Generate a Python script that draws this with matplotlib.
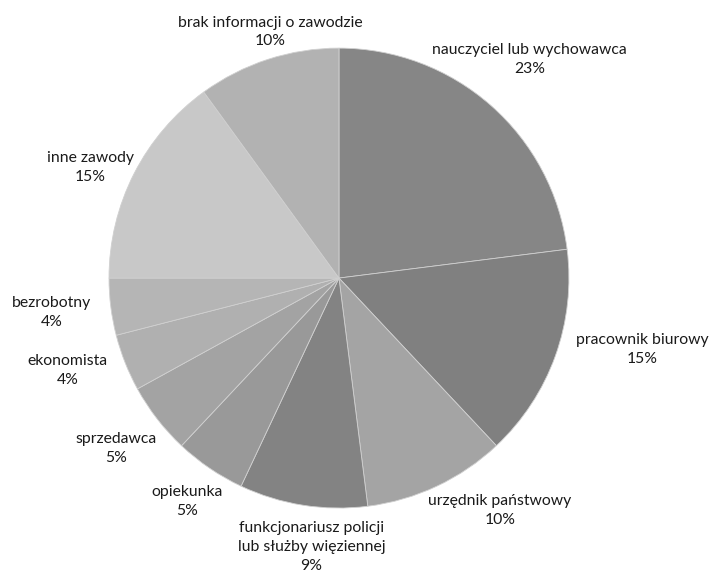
import matplotlib
matplotlib.use("Agg")
import matplotlib.pyplot as plt

categories = [
    "nauczyciel lub wychowawca",
    "pracownik biurowy",
    "urzędnik państwowy",
    "funkcjonariusz policji\nlub służby więziennej",
    "opiekunka",
    "sprzedawca",
    "ekonomista",
    "bezrobotny",
    "inne zawody",
    "brak informacji o zawodzie",
]
values = [23, 15, 10, 9, 5, 5, 4, 4, 15, 10]
colors = ["#868686", "#808080", "#a4a4a4", "#838383", "#999999",
          "#a3a3a3", "#b0b0b0", "#b5b5b5", "#c8c8c8", "#b2b2b2"]
# label block centres, in units of the pie radius
label_pos = [(0.83, 0.95), (1.32, -0.31), (0.70, -1.01), (-0.12, -1.17),
             (-0.66, -0.97), (-0.97, -0.74), (-1.18, -0.40), (-1.25, -0.15),
             (-1.08, 0.48), (-0.30, 1.07)]

plt.rcParams['font.family'] = ['Lato', 'DejaVu Sans']

fig = plt.figure(figsize=(7.23, 5.78), dpi=100)
ax = fig.add_axes([0, 0, 1, 1])
ax.pie(values, colors=colors, startangle=90, counterclock=False, radius=1,
       wedgeprops=dict(edgecolor="#d0d0d0", linewidth=0.6))
ax.set_xlim(-1.474, 1.670)
ax.set_ylim(-1.304, 1.209)
ax.set_aspect("equal")
ax.axis("off")

for cat, val, (lx, ly) in zip(categories, values, label_pos):
    ax.text(lx, ly, f"{cat}\n{val}%", ha="center", va="center",
            fontsize=11.3, color="#1a1a1a", linespacing=1.45)

fig.savefig("out.png", dpi=100)
